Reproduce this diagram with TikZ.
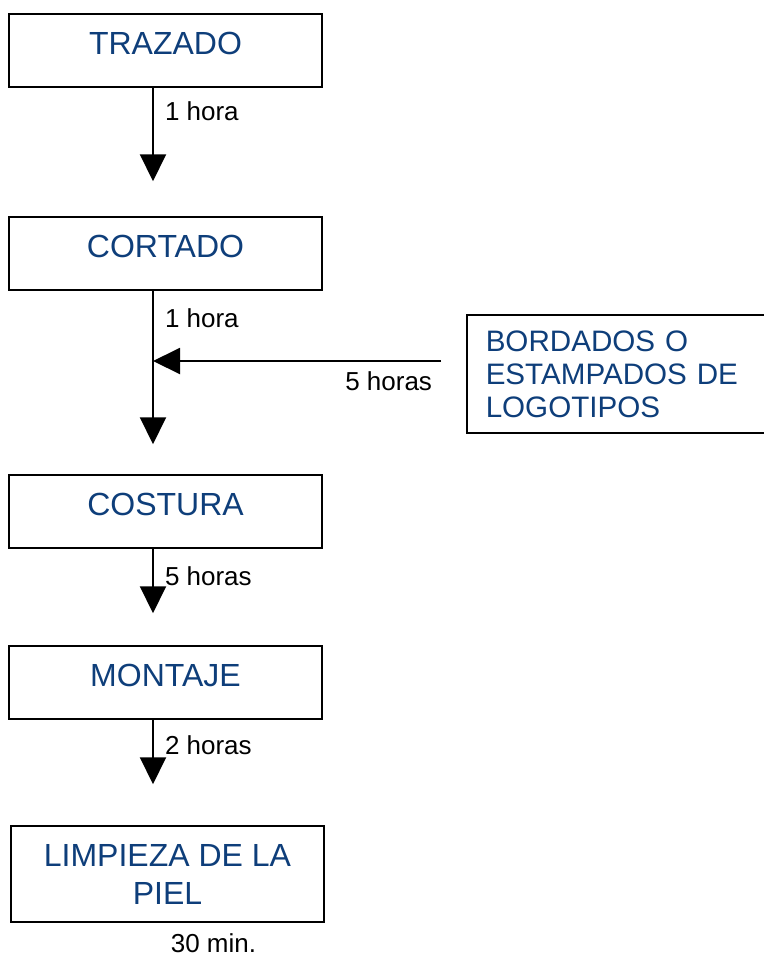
\documentclass[tikz,border=0pt]{standalone}
\usepackage{fontspec}
\setmainfont{Liberation Sans}
\usetikzlibrary{positioning, arrows.meta}
\definecolor{azul}{RGB}{14,62,122}

\begin{document}
\begin{tikzpicture}[node distance={64.25pt}, thick,
  etapa/.style = {draw, line width=0.75pt, minimum width=156.5pt, minimum height=36.5pt, inner sep=0pt, text=azul, font=\fontsize{16}{17}\selectfont, text height=11.5pt, text depth=7.5pt},
  hora/.style = {font=\fontsize{13}{14}\selectfont, inner sep=0pt},
  flecha/.style = {line width=1pt, -{Triangle[width=13pt, length=13.5pt]}}]
\useasboundingbox (0,0) rectangle (382pt,-477.5pt);

\node[etapa] (trazado) at (82.75pt,-25.25pt) {TRAZADO};
\node[etapa] (cortado) [below=of trazado] {CORTADO};
\node[etapa] (costura) [below=91.75pt of cortado] {COSTURA};
\node[etapa] (montaje) [below=48.25pt of costura] {MONTAJE};
\node[etapa, minimum height=48pt, text height=, text depth=, align=center, font=\fontsize{16}{19}\selectfont] (limpieza) [below=52.75pt of montaje, xshift=1pt] {LIMPIEZA DE LA\\PIEL};
\node[etapa, anchor=west, minimum width=0pt, minimum height=59pt, text width=150pt, inner xsep=9.5pt, text height=, text depth=, align=left, font=\fontsize{14.8}{16.5}\selectfont] (bordados) at (233pt,-187pt) {BORDADOS O\\ESTAMPADOS DE\\LOGOTIPOS};

\coordinate (f1) at ([xshift=-6.25pt, yshift=17.5pt]cortado.north);
\coordinate (f2) at ([xshift=-6.25pt, yshift=15pt]costura.north);
\coordinate (f3) at ([xshift=-6.25pt, yshift=16pt]montaje.north);
\coordinate (f4) at ([xshift=-7.25pt, yshift=20.5pt]limpieza.north);
\coordinate (b1) at ([xshift=-12.5pt, yshift=6.5pt]bordados.west);
\coordinate (b2) at (b1 -| f2);

\draw[flecha] ([xshift=-6.25pt]trazado.south) -- node[hora, pos=0.25, right=5.5pt] {1 hora} (f1);
\draw[flecha] ([xshift=-6.25pt]cortado.south) -- node[hora, pos=0.18, right=5.5pt] {1 hora} (f2);
\draw[flecha] (b1) -- node[hora, pos=0, below left=4.75pt and 4pt] {5 horas} (b2);
\draw[flecha] ([xshift=-6.25pt]costura.south) -- node[hora, pos=0.42, right=5.5pt] {5 horas} (f3);
\draw[flecha] ([xshift=-6.25pt]montaje.south) -- node[hora, pos=0.39, right=5.5pt] {2 horas} (f4);

\node[hora, anchor=west] (tiempo) at (85pt,-471.5pt) {30 min.};
\end{tikzpicture}
\end{document}
